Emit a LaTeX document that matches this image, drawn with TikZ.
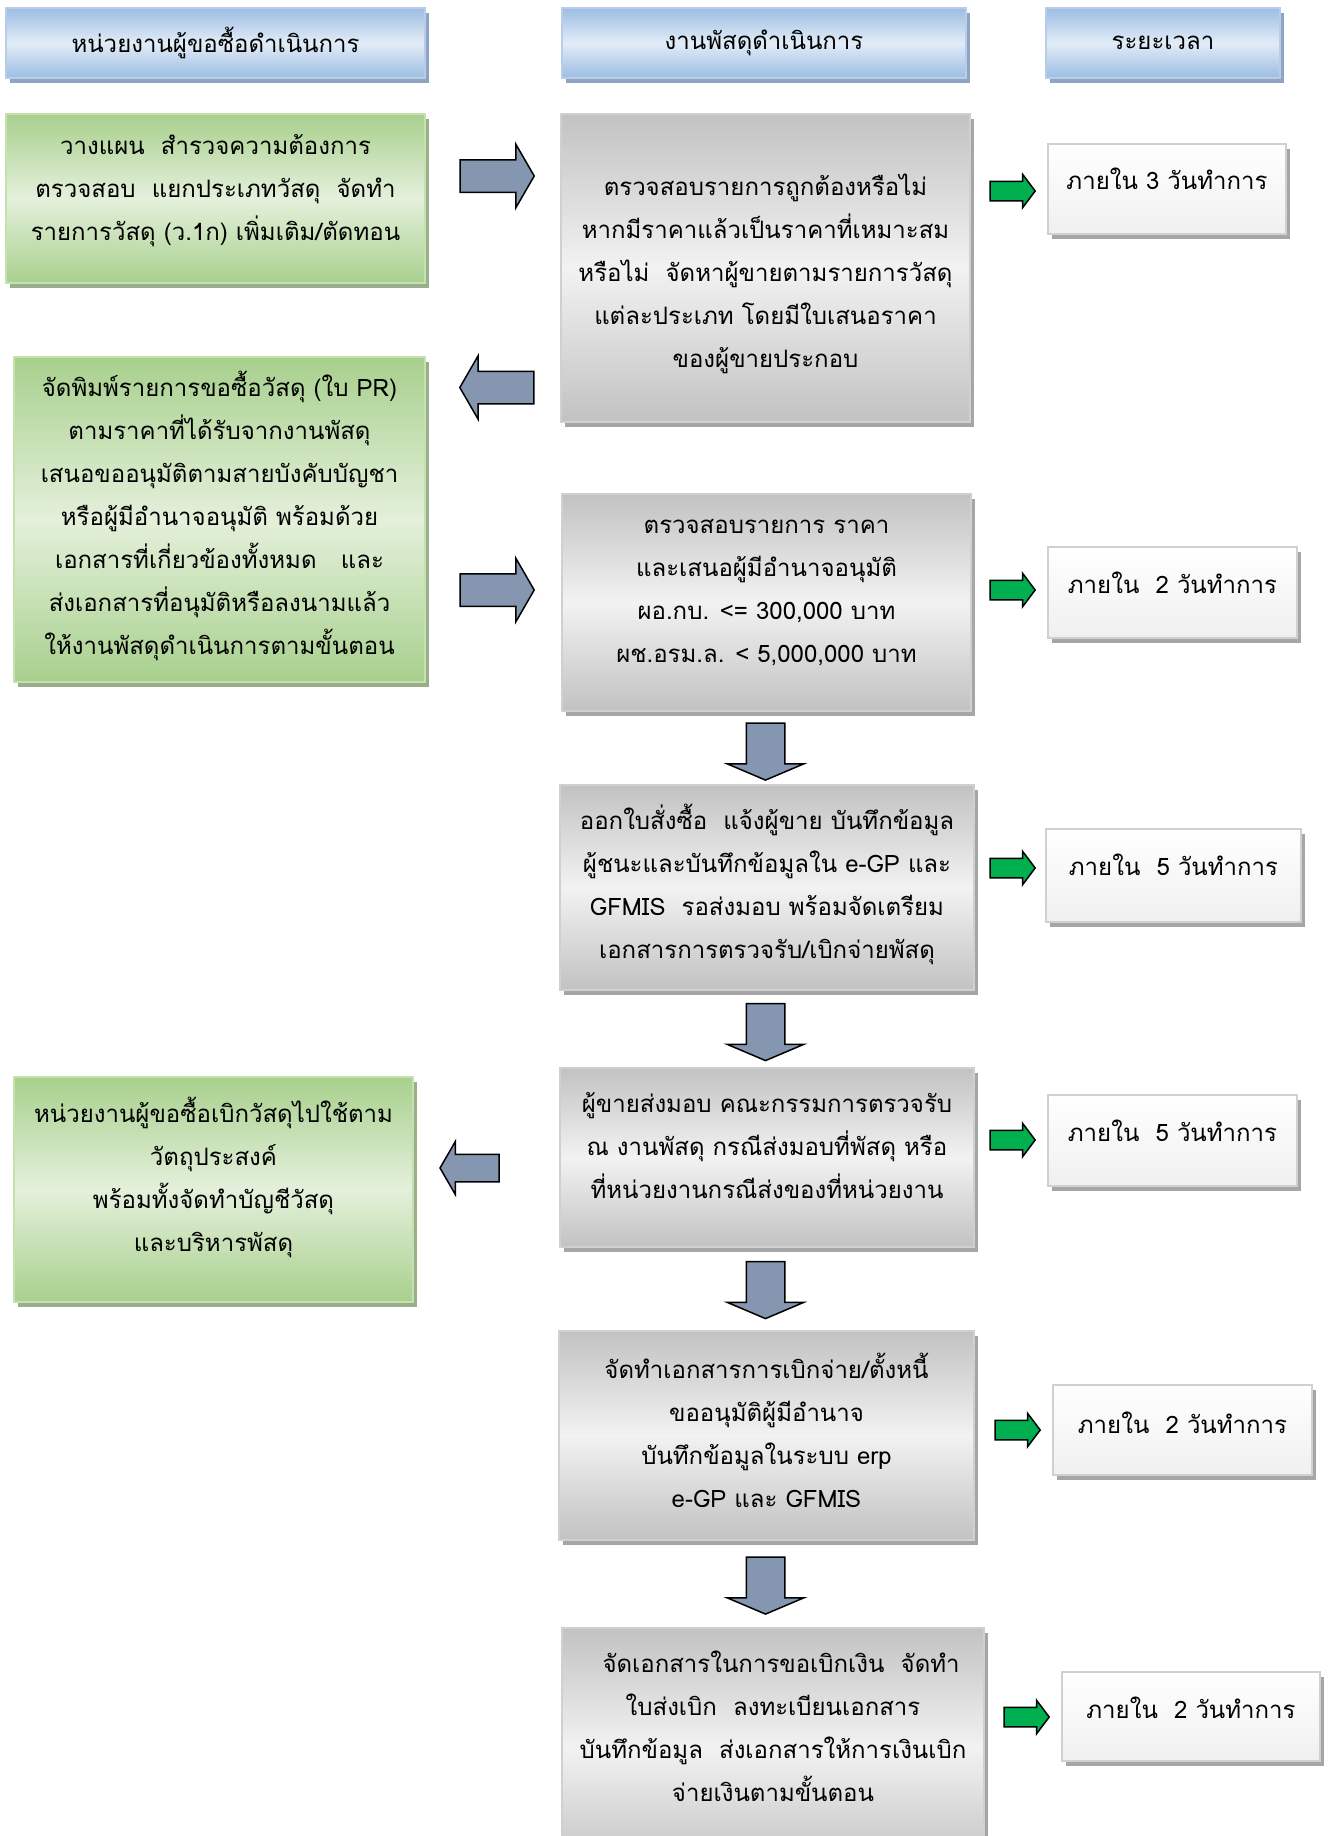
\documentclass[tikz,border=0pt]{standalone}
\usepackage{fontspec}
\newfontfamily\thaifont[Script=Thai]{Loma}
\usetikzlibrary{shapes.arrows,shadows}
\definecolor{hdark}{HTML}{9CBDE3}
\definecolor{hlight}{HTML}{E2ECF7}
\definecolor{hborder}{HTML}{B7CDE8}
\definecolor{hshadow}{HTML}{8EA4C2}
\definecolor{gdark}{HTML}{A8D08D}
\definecolor{glight}{HTML}{E4F0DB}
\definecolor{gborder}{HTML}{C4E1AE}
\definecolor{gshadow}{HTML}{9AAE8E}
\definecolor{sdark}{HTML}{C2C2C2}
\definecolor{slight}{HTML}{F2F2F2}
\definecolor{sborder}{HTML}{D0D0D0}
\definecolor{sshadow}{HTML}{A6A6A6}
\definecolor{arrowblue}{HTML}{8596B0}
\definecolor{arrowgreen}{HTML}{00B050}
\tikzset{
  panel/.style={rectangle, inner sep=0pt, line width=2pt, shading=axis, shading angle=-45},
  headbox/.style={panel, draw=hborder, top color=hdark, bottom color=hdark, middle color=hlight,
    drop shadow={shadow xshift=4pt, shadow yshift=-5pt, fill=hshadow, opacity=1}},
  greenbox/.style={panel, draw=gborder, top color=gdark, bottom color=gdark, middle color=glight,
    drop shadow={shadow xshift=4pt, shadow yshift=-5pt, fill=gshadow, opacity=1}},
  graybox/.style={panel, draw=sborder, top color=sdark, bottom color=sdark, middle color=slight,
    drop shadow={shadow xshift=4pt, shadow yshift=-5pt, fill=sshadow, opacity=1}},
  timebox/.style={rectangle, inner sep=0pt, line width=2pt, draw=sborder, shading=axis,
    top color=white, middle color=gray!22, bottom color=gray!12,
    drop shadow={shadow xshift=4pt, shadow yshift=-5pt, fill=sshadow, opacity=1}},
  txt/.style={align=center, inner sep=0pt, font=\thaifont\fontsize{24}{43}\selectfont},
  blockarrow/.style={single arrow, draw=black, line width=1.5pt,
    single arrow head indent=0pt},
  bluearrow/.style={blockarrow, fill=arrowblue, inner sep=15.5, minimum height=74,
    single arrow head extend=15.5, single arrow tip angle=120},
  downarrow/.style={blockarrow, fill=arrowblue, inner sep=18.5, minimum height=57,
    single arrow head extend=19, single arrow tip angle=134, shape border rotate=270},
  greenarrow/.style={blockarrow, fill=arrowgreen, inner sep=9, minimum height=45,
    single arrow head extend=7, single arrow tip angle=106},
}
\begin{document}
\begin{tikzpicture}[x=1pt,y=-1pt]
\useasboundingbox (0,0) rectangle (1335,1836);

% column headings
\node[headbox, minimum width=419, minimum height=70] (h1) at (215.5,43) {};
\node[txt] (h1t) at (h1) {หน่วยงานผู้ขอซื้อดำเนินการ};
\node[headbox, minimum width=404, minimum height=70] (h2) at (764,43) {};
\node[txt] (h2t) at (h2) {งานพัสดุดำเนินการ};
\node[headbox, minimum width=234, minimum height=70] (h3) at (1163,43) {};
\node[txt] (h3t) at (h3) {ระยะเวลา};

% requesting unit
\node[greenbox, minimum width=419, minimum height=169] (u1) at (215.5,198.5) {};
\node[txt] (u1t) at (215.5,191) {วางแผน~~สำรวจความต้องการ\\ตรวจสอบ~~แยกประเภทวัสดุ~~จัดทำ\\รายการวัสดุ (ว.1ก) เพิ่มเติม/ตัดทอน};

\node[greenbox, minimum width=411, minimum height=325] (u2) at (219.5,519.5) {};
\node[txt] (u2t) at (219.5,516) {จัดพิมพ์รายการขอซื้อวัสดุ (ใบ PR)\\ตามราคาที่ได้รับจากงานพัสดุ\\เสนอขออนุมัติตามสายบังคับบัญชา\\หรือผู้มีอำนาจอนุมัติ พร้อมด้วย\\เอกสารที่เกี่ยวข้องทั้งหมด~~~และ\\ส่งเอกสารที่อนุมัติหรือลงนามแล้ว\\ให้งานพัสดุดำเนินการตามขั้นตอน};

\node[greenbox, minimum width=399, minimum height=225] (u3) at (213.5,1189.5) {};
\node[txt] (u3t) at (213.5,1177) {หน่วยงานผู้ขอซื้อเบิกวัสดุไปใช้ตาม\\วัตถุประสงค์\\พร้อมทั้งจัดทำบัญชีวัสดุ\\และบริหารพัสดุ};

% supplies section
\node[graybox, minimum width=409, minimum height=308] (s1) at (765.5,268) {};
\node[txt] (s1t) at (765.5,274) {ตรวจสอบรายการถูกต้องหรือไม่\\หากมีราคาแล้วเป็นราคาที่เหมาะสม\\หรือไม่~~จัดหาผู้ขายตามรายการวัสดุ\\แต่ละประเภท โดยมีใบเสนอราคา\\ของผู้ขายประกอบ};

\node[graybox, minimum width=409, minimum height=217] (s2) at (766.5,602.5) {};
\node[txt] (s2t) at (766.5,593) {ตรวจสอบรายการ ราคา\\และเสนอผู้มีอำนาจอนุมัติ\\ผอ.กบ. <= 300,000 บาท\\ผช.อรม.ล. < 5,000,000 บาท};

\node[graybox, minimum width=414, minimum height=205] (s3) at (767,887.5) {};
\node[txt] (s3t) at (767,884) {ออกใบสั่งซื้อ~~แจ้งผู้ขาย บันทึกข้อมูล\\ผู้ชนะและบันทึกข้อมูลใน e-GP และ\\GFMIS~~รอส่งมอบ พร้อมจัดเตรียม\\เอกสารการตรวจรับ/เบิกจ่ายพัสดุ};

\node[graybox, minimum width=414, minimum height=179] (s4) at (767,1157.5) {};
\node[txt] (s4t) at (767,1146) {ผู้ขายส่งมอบ คณะกรรมการตรวจรับ\\ณ งานพัสดุ กรณีส่งมอบที่พัสดุ หรือ\\ที่หน่วยงานกรณีส่งของที่หน่วยงาน};

\node[graybox, minimum width=415, minimum height=209] (s5) at (766.5,1435.5) {};
\node[txt] (s5t) at (766.5,1430) {จัดทำเอกสารการเบิกจ่าย/ตั้งหนี้\\ขออนุมัติผู้มีอำนาจ\\บันทึกข้อมูลในระบบ erp\\e-GP และ GFMIS};

\node[graybox, minimum width=422, minimum height=240] (s6) at (773,1748) {};
\node[txt] (s6t) at (773,1726) {~~จัดเอกสารในการขอเบิกเงิน~~จัดทำ\\ใบส่งเบิก~~ลงทะเบียนเอกสาร\\บันทึกข้อมูล~~ส่งเอกสารให้การเงินเบิก\\จ่ายเงินตามขั้นตอน};

% time allowed
\node[timebox, minimum width=238, minimum height=90] (t1) at (1167,189) {};
\node[txt] (t1t) at (1167,179) {ภายใน 3 วันทำการ};
\node[timebox, minimum width=249, minimum height=91] (t2) at (1172.5,592.5) {};
\node[txt] (t2t) at (1172.5,583) {ภายใน~~2 วันทำการ};
\node[timebox, minimum width=255, minimum height=93] (t3) at (1173.5,875.5) {};
\node[txt] (t3t) at (1173.5,865) {ภายใน~~5 วันทำการ};
\node[timebox, minimum width=249, minimum height=91] (t4) at (1172.5,1140.5) {};
\node[txt] (t4t) at (1172.5,1131) {ภายใน~~5 วันทำการ};
\node[timebox, minimum width=259, minimum height=90] (t5) at (1182.5,1430) {};
\node[txt] (t5t) at (1182.5,1423) {ภายใน~~2 วันทำการ};
\node[timebox, minimum width=258, minimum height=89] (t6) at (1191,1716.5) {};
\node[txt] (t6t) at (1191,1708) {ภายใน~~2 วันทำการ};

% block arrows between the columns
\node[bluearrow] (a1) at (492.5,176) {};
\node[bluearrow, shape border rotate=180] (a2) at (501.5,387.5) {};
\node[bluearrow] (a3) at (492.5,590) {};
\node[bluearrow, shape border rotate=180, inner sep=13, minimum height=59,
  single arrow head extend=13] (a4) at (473.5,1168) {};

% block arrows down the supplies column
\node[downarrow] (d1) at (765.5,747.5) {};
\node[downarrow] (d2) at (765.5,1028) {};
\node[downarrow] (d3) at (765.5,1286) {};
\node[downarrow] (d4) at (765.5,1581.5) {};

% arrows to the time allowed
\node[greenarrow] (e1) at (1009,191) {};
\node[greenarrow] (e2) at (1009,590) {};
\node[greenarrow] (e3) at (1009,868) {};
\node[greenarrow] (e4) at (1009,1140) {};
\node[greenarrow] (e5) at (1014,1430) {};
\node[greenarrow] (e6) at (1023,1717) {};
\end{tikzpicture}
\end{document}
